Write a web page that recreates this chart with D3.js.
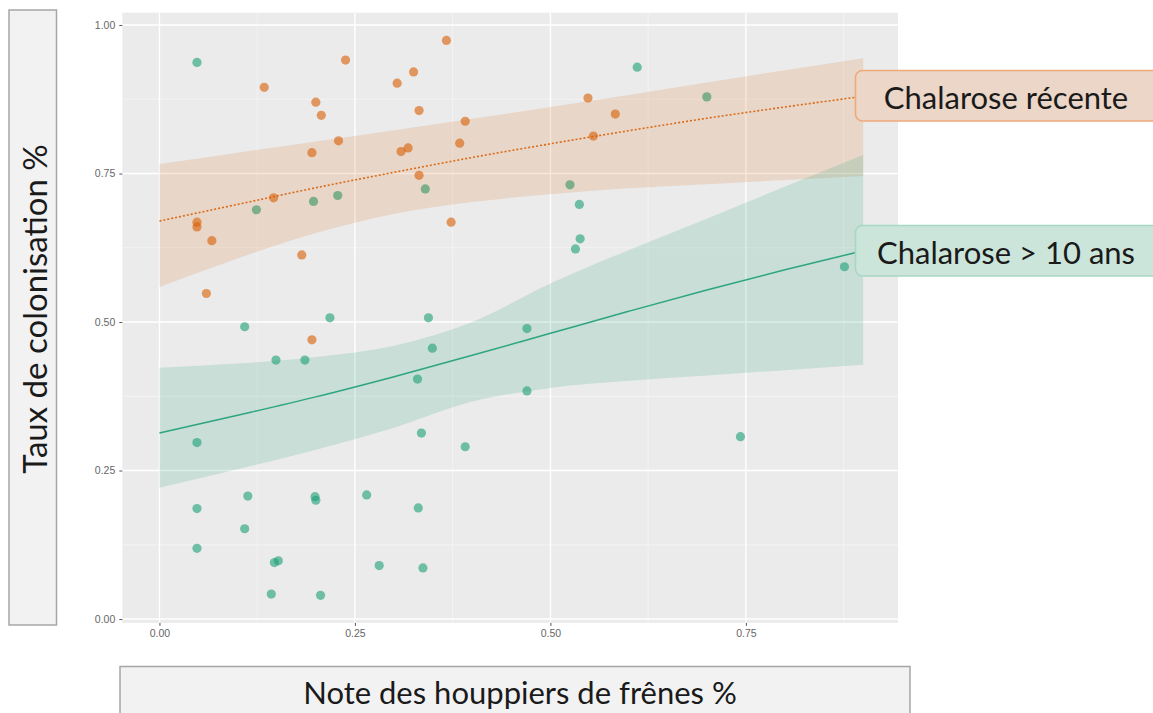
<!DOCTYPE html>
<html>
<head>
<meta charset="utf-8">
<script src="https://cdn.jsdelivr.net/npm/d3@7"></script>
<style>
  html, body { margin: 0; padding: 0; background: #ffffff; }
  svg { display: block; }
</style>
</head>
<body>
<svg id="chart" width="1153" height="713"></svg>
<script>
// Observed points: [note des houppiers, taux de colonisation]
const recentPoints = [
  [0.367,0.974],[0.238,0.941],[0.134,0.895],[0.304,0.902],[0.325,0.921],[0.200,0.870],
  [0.207,0.848],[0.332,0.856],[0.391,0.838],[0.229,0.805],[0.195,0.785],[0.309,0.787],
  [0.318,0.793],[0.384,0.801],[0.332,0.747],[0.146,0.709],[0.048,0.668],[0.048,0.660],
  [0.067,0.637],[0.373,0.668],[0.182,0.613],[0.060,0.548],[0.195,0.470],[0.548,0.877],
  [0.583,0.850],[0.555,0.813]
];
const oldPoints = [
  [0.048,0.937],[0.124,0.689],[0.197,0.703],[0.228,0.713],[0.340,0.724],[0.218,0.507],
  [0.344,0.507],[0.109,0.492],[0.149,0.436],[0.186,0.436],[0.349,0.456],[0.330,0.404],
  [0.048,0.297],[0.335,0.313],[0.391,0.290],[0.113,0.207],[0.199,0.206],[0.200,0.200],
  [0.265,0.209],[0.048,0.186],[0.331,0.187],[0.109,0.152],[0.048,0.119],[0.147,0.095],
  [0.152,0.098],[0.281,0.090],[0.337,0.086],[0.143,0.042],[0.206,0.040],[0.611,0.929],
  [0.700,0.879],[0.525,0.731],[0.537,0.698],[0.538,0.640],[0.532,0.623],[0.876,0.593],
  [0.470,0.489],[0.470,0.384],[0.743,0.307]
];

// Fitted curves with confidence bands, sampled along x
const fitX        = [0, 0.1, 0.2, 0.3, 0.4, 0.5, 0.6, 0.7, 0.8, 0.9];
const recentFit   = [0.670, 0.698, 0.726, 0.752, 0.777, 0.800, 0.822, 0.843, 0.862, 0.880];
const recentLower = [0.559, 0.607, 0.650, 0.682, 0.702, 0.715, 0.725, 0.732, 0.739, 0.746];
const recentUpper = [0.766, 0.785, 0.804, 0.823, 0.842, 0.862, 0.882, 0.903, 0.924, 0.944];
const oldFit      = [0.313, 0.343, 0.374, 0.408, 0.444, 0.481, 0.518, 0.554, 0.588, 0.620];
const oldLower    = [0.221, 0.252, 0.285, 0.322, 0.366, 0.389, 0.401, 0.410, 0.419, 0.428];
const oldUpper    = [0.423, 0.430, 0.441, 0.460, 0.500, 0.565, 0.621, 0.674, 0.728, 0.781];

const xTicks = [0, 0.25, 0.5, 0.75];
const yTicks = [0, 0.25, 0.5, 0.75, 1];
const xMinor = [0.125, 0.375, 0.625, 0.875];
const yMinor = [0.125, 0.375, 0.625, 0.875];

const seriesLabels = ["Chalarose récente", "Chalarose > 10 ans"];
const xTitle = "Note des houppiers de frênes %";
const yTitle = "Taux de colonisation %";

const svg = d3.select("#chart");
const panel = { left: 122.3, right: 898, top: 12.7, bottom: 622.9 };

const x = d3.scaleLinear().domain([-0.0475, 0.9445]).range([panel.left, panel.right]);
const y = d3.scaleLinear().domain([-0.0065, 1.0207]).range([panel.bottom, panel.top]);

// Panel background and grid
svg.append("rect")
  .attr("x", panel.left).attr("y", panel.top)
  .attr("width", panel.right - panel.left).attr("height", panel.bottom - panel.top)
  .attr("fill", "#EBEBEB");

const grid = svg.append("g");
grid.selectAll(".vminor").data(xMinor).join("line")
  .attr("x1", d => x(d)).attr("x2", d => x(d))
  .attr("y1", panel.top).attr("y2", panel.bottom)
  .attr("stroke", "#F7F7F7").attr("stroke-width", 0.7);
grid.selectAll(".hminor").data(yMinor).join("line")
  .attr("y1", d => y(d)).attr("y2", d => y(d))
  .attr("x1", panel.left).attr("x2", panel.right)
  .attr("stroke", "#F7F7F7").attr("stroke-width", 0.7);
grid.selectAll(".vmajor").data(xTicks).join("line")
  .attr("x1", d => x(d)).attr("x2", d => x(d))
  .attr("y1", panel.top).attr("y2", panel.bottom)
  .attr("stroke", "#FFFFFF").attr("stroke-width", 1.4);
grid.selectAll(".hmajor").data(yTicks).join("line")
  .attr("y1", d => y(d)).attr("y2", d => y(d))
  .attr("x1", panel.left).attr("x2", panel.right)
  .attr("stroke", "#FFFFFF").attr("stroke-width", 1.4);

// Axes
const fmt = d3.format(".2f");
const xAxis = svg.append("g")
  .attr("transform", `translate(0,${panel.bottom})`)
  .call(d3.axisBottom(x).tickValues(xTicks).tickFormat(fmt).tickSize(3).tickPadding(4));
const yAxis = svg.append("g")
  .attr("transform", `translate(${panel.left},0)`)
  .call(d3.axisLeft(y).tickValues(yTicks).tickFormat(fmt).tickSize(3).tickPadding(4));
[xAxis, yAxis].forEach(a => {
  a.select(".domain").remove();
  a.selectAll(".tick line").attr("stroke", "#555555").attr("stroke-width", 1);
  a.selectAll(".tick text")
    .attr("fill", "#666666")
    .style("font-family", "'Liberation Sans', Arial, sans-serif")
    .style("font-size", "10.5px");
});

const colRecent = "#D95F02";
const colOld = "#1B9E77";

// Points
const pts = svg.append("g");
pts.selectAll(".old").data(oldPoints).join("circle")
  .attr("cx", d => x(d[0])).attr("cy", d => y(d[1])).attr("r", 4.6)
  .attr("fill", colOld).attr("fill-opacity", 0.6);
pts.selectAll(".recent").data(recentPoints).join("circle")
  .attr("cx", d => x(d[0])).attr("cy", d => y(d[1])).attr("r", 4.6)
  .attr("fill", colRecent).attr("fill-opacity", 0.6);

// Bands and fitted lines
const band = d3.area()
  .x(d => x(d.x)).y0(d => y(d.lo)).y1(d => y(d.hi))
  .curve(d3.curveMonotoneX);
const fitLine = d3.line().x(d => x(d.x)).y(d => y(d.v)).curve(d3.curveMonotoneX);

const recentRows = fitX.map((v, i) => ({ x: v, v: recentFit[i], lo: recentLower[i], hi: recentUpper[i] }));
const oldRows = fitX.map((v, i) => ({ x: v, v: oldFit[i], lo: oldLower[i], hi: oldUpper[i] }));

svg.append("path").datum(recentRows).attr("d", band)
  .attr("fill", colRecent).attr("fill-opacity", 0.15);
svg.append("path").datum(oldRows).attr("d", band)
  .attr("fill", colOld).attr("fill-opacity", 0.17);

svg.append("path").datum(recentRows).attr("d", fitLine)
  .attr("fill", "none").attr("stroke", colRecent).attr("stroke-width", 1.6)
  .attr("stroke-dasharray", "2,2").attr("stroke-opacity", 0.9);
svg.append("path").datum(oldRows).attr("d", fitLine)
  .attr("fill", "none").attr("stroke", colOld).attr("stroke-width", 1.5)
  .attr("stroke-opacity", 0.9);

// Series label boxes
const labelFont = "Lato, 'Open Sans', sans-serif";
const boxes = [
  { text: seriesLabels[0], top: 70.5, fill: "#EBD6C7", stroke: "#EFAA7A" },
  { text: seriesLabels[1], top: 225.5, fill: "#CCE5DB", stroke: "#A6D8C4" }
];
boxes.forEach(b => {
  svg.append("rect")
    .attr("x", 855.5).attr("y", b.top).attr("width", 310).attr("height", 50.5)
    .attr("rx", 7).attr("fill", b.fill).attr("stroke", b.stroke).attr("stroke-width", 1.6);
  svg.append("text")
    .attr("x", 1006).attr("y", b.top + 26)
    .attr("text-anchor", "middle").attr("dominant-baseline", "central")
    .attr("fill", "#1A1A1A")
    .style("font-family", labelFont).style("font-size", "31px")
    .text(b.text);
});

// Axis title boxes
svg.append("rect")
  .attr("x", 9).attr("y", 10).attr("width", 47.5).attr("height", 615)
  .attr("fill", "#F2F2F2").attr("stroke", "#A6A6A6").attr("stroke-width", 1.5);
svg.append("text")
  .attr("transform", "translate(34,309) rotate(-90)")
  .attr("text-anchor", "middle").attr("dominant-baseline", "central")
  .attr("fill", "#1A1A1A")
  .style("font-family", labelFont).style("font-size", "33px")
  .text(yTitle);

svg.append("rect")
  .attr("x", 120).attr("y", 666.5).attr("width", 790).attr("height", 60)
  .attr("fill", "#F2F2F2").attr("stroke", "#A6A6A6").attr("stroke-width", 1.5);
svg.append("text")
  .attr("x", 520).attr("y", 692)
  .attr("text-anchor", "middle").attr("dominant-baseline", "central")
  .attr("fill", "#1A1A1A")
  .style("font-family", labelFont).style("font-size", "31px")
  .text(xTitle);
</script>
</body>
</html>
